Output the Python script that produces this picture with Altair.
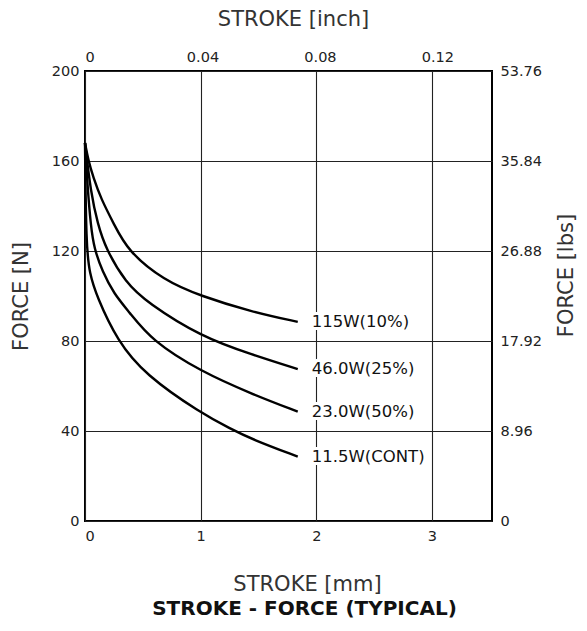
import altair as alt
import pandas as pd

# ---- data ----
series_names = ["115W(10%)", "46.0W(25%)", "23.0W(50%)", "11.5W(CONT)"]

stroke_115w = [0, 0.03, 0.07, 0.14, 0.25, 0.37, 0.68, 1.0, 1.44, 1.84]
force_115w = [168, 160, 153, 143, 132, 120, 107, 100, 93, 88.5]
stroke_46w = [0, 0.05, 0.11, 0.18, 0.35, 0.54, 1.0, 1.44, 1.84]
force_46w = [168, 146, 132, 121, 106, 97, 82, 74, 67.5]
stroke_23w = [0, 0.02, 0.05, 0.08, 0.15, 0.25, 0.38, 0.58, 1.0, 1.44, 1.84]
force_23w = [168, 150, 131, 121, 111, 101, 93, 80, 66.5, 56.5, 48.6]
stroke_11w = [0, 0.01, 0.04, 0.1, 0.28, 0.52, 1.0, 1.26, 1.44, 1.84]
force_11w = [168, 122, 110, 100, 80, 65, 48, 41, 36.4, 28.6]

mm_ticks = [0, 1, 2, 3]
inch_ticks = [0, 0.04, 0.08, 0.12]
newton_ticks = [0, 40, 80, 120, 160, 200]
lbs_labels = ["0", "8.96", "17.92", "26.88", "35.84", "53.76"]

x_max_mm = 3.52
mm_per_inch = 25.4

# ---- tables ----
rows = []
for name, xs, ys in zip(series_names,
                        [stroke_115w, stroke_46w, stroke_23w, stroke_11w],
                        [force_115w, force_46w, force_23w, force_11w]):
    for i, (sx, fy) in enumerate(zip(xs, ys)):
        rows.append({"series": name, "idx": i, "stroke": sx, "force": fy})
df = pd.DataFrame(rows)

ends = df.sort_values("idx").groupby("series", sort=False).tail(1)

FONT = "DejaVu Sans"

x_mm = alt.Scale(domain=[0, x_max_mm], nice=False, zero=False)
y_n = alt.Scale(domain=[0, 200], nice=False)

lines = alt.Chart(df).mark_line(
    interpolate="basis", color="black", strokeWidth=2.4
).encode(
    x=alt.X("stroke:Q", scale=x_mm,
            axis=alt.Axis(orient="bottom", values=mm_ticks, title="STROKE [mm]",
                          format="d", grid=True, labelPadding=8, titlePadding=31,
                          titleX=222)),
    y=alt.Y("force:Q", scale=y_n,
            axis=alt.Axis(orient="left", values=newton_ticks, title="FORCE [N]",
                          grid=True, labelPadding=6, titlePadding=20)),
    detail="series:N",
    order="idx:Q",
)

halo = alt.Chart(ends).mark_text(
    align="left", baseline="middle", dx=14, font=FONT, fontSize=16.5,
    fill="white", stroke="white", strokeWidth=6
).encode(
    x=alt.X("stroke:Q", scale=x_mm),
    y=alt.Y("force:Q", scale=y_n),
    text="series:N",
)

labels = alt.Chart(ends).mark_text(
    align="left", baseline="middle", dx=14, font=FONT, fontSize=16.5,
    color="#111"
).encode(
    x=alt.X("stroke:Q", scale=x_mm),
    y=alt.Y("force:Q", scale=y_n),
    text="series:N",
)

main = alt.layer(lines, halo, labels)

lbs_expr = "''"
for v, lab in reversed(list(zip(newton_ticks, lbs_labels))):
    lbs_expr = f"datum.value == {v} ? '{lab}' : ({lbs_expr})"

secondary = alt.Chart(df).transform_calculate(
    inch=f"datum.stroke / {mm_per_inch}"
).mark_line(opacity=0).encode(
    x=alt.X("inch:Q",
            scale=alt.Scale(domain=[0, x_max_mm / mm_per_inch], nice=False, zero=False),
            axis=alt.Axis(orient="top", values=inch_ticks, title="STROKE [inch]",
                          grid=False, labelPadding=7, titlePadding=20, titleX=208,
                          labelExpr="datum.value == 0 ? '0' : format(datum.value, '.2f')")),
    y=alt.Y("force:Q", scale=y_n,
            axis=alt.Axis(orient="right", values=newton_ticks, title="FORCE [lbs]",
                          grid=False, labelPadding=8, titlePadding=14, titleAngle=270,
                          titleBaseline="top", titleY=204, labelExpr=lbs_expr)),
    detail="series:N",
)

chart = alt.layer(main, secondary).resolve_scale(
    x="independent", y="independent"
).properties(
    width=407, height=450,
    padding={"left": 2, "top": 0, "right": 0, "bottom": 0},
    title=alt.TitleParams("STROKE - FORCE (TYPICAL)", orient="bottom", anchor="middle",
                          font=FONT, fontSize=20, fontWeight="bold", color="#111",
                          offset=4, dx=16),
).configure_view(
    stroke="black", strokeWidth=2
).configure_axis(
    labelFont=FONT, labelFontSize=14.5, labelColor="#222",
    titleFont=FONT, titleFontSize=21, titleFontWeight="normal", titleColor="#333",
    ticks=False, domain=False,
    gridColor="#222", gridWidth=1.1, gridOpacity=1,
)

chart.save("out.html", embed_options={"renderer": "svg", "actions": False})
